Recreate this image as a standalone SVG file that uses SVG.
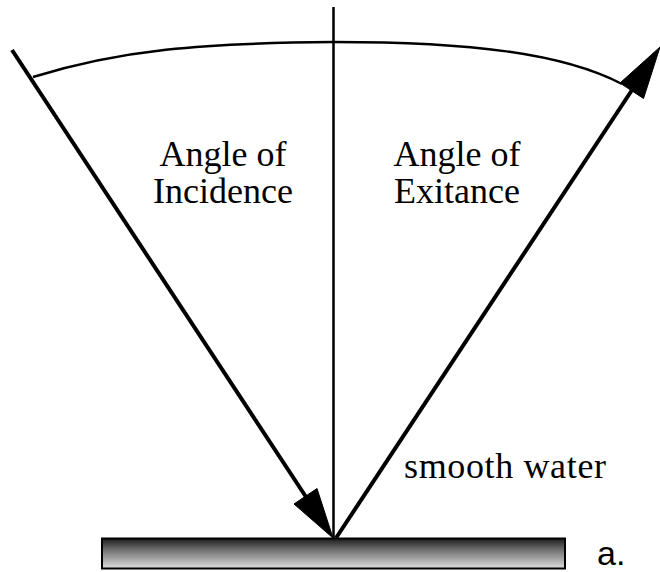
<svg xmlns="http://www.w3.org/2000/svg" width="660" height="572" viewBox="0 0 660 572">
  <style>
    .serif { font-family: "Liberation Serif", "Times New Roman", serif; font-size: 36px; fill: #000; }
    .sans { font-family: "Liberation Sans", Arial, sans-serif; font-size: 34px; fill: #000; }
    .ray { stroke: #000; stroke-width: 4; fill: none; }
    .thin { stroke: #000; stroke-width: 2.5; fill: none; }
    .head { fill: #000; stroke: #000; stroke-width: 1; stroke-linejoin: miter; }
  </style>
  <defs>
    <linearGradient id="water" x1="0" y1="0" x2="0" y2="1">
      <stop offset="0" stop-color="#1a1a1a"/>
      <stop offset="0.35" stop-color="#6a6a6a"/>
      <stop offset="1" stop-color="#e0e0e0"/>
    </linearGradient>
  </defs>
  <rect width="660" height="572" fill="#fff"/>

  <g id="surface">
    <rect x="102" y="538.5" width="463" height="30" fill="url(#water)" stroke="#000" stroke-width="2"/>
  </g>

  <g id="connectors">
    <path id="arc" class="thin" d="M33,77 C120,50 200,43 334,42 C470,42 562,53 622,84"/>
    <line id="normal" class="thin" x1="333.5" y1="7" x2="333.5" y2="538"/>
    <line id="incident" class="ray" x1="12" y1="50" x2="310" y2="503"/>
    <polygon class="head" points="333,538 317,488.5 294,504"/>
    <line id="reflected" class="ray" x1="336" y1="538" x2="634" y2="87"/>
    <polygon class="head" points="660,47 620,83 643.5,98.5"/>
  </g>

  <g id="label-incidence">
    <text class="serif" x="223" y="166" text-anchor="middle">Angle of</text>
    <text class="serif" x="223" y="203" text-anchor="middle">Incidence</text>
  </g>
  <g id="label-exitance">
    <text class="serif" x="457" y="166" text-anchor="middle">Angle of</text>
    <text class="serif" x="457" y="203" text-anchor="middle">Exitance</text>
  </g>
  <g id="label-water">
    <text class="serif" x="404" y="478" textLength="202" lengthAdjust="spacing">smooth water</text>
  </g>
  <g id="label-a">
    <text class="sans" x="597" y="565">a.</text>
  </g>
</svg>
